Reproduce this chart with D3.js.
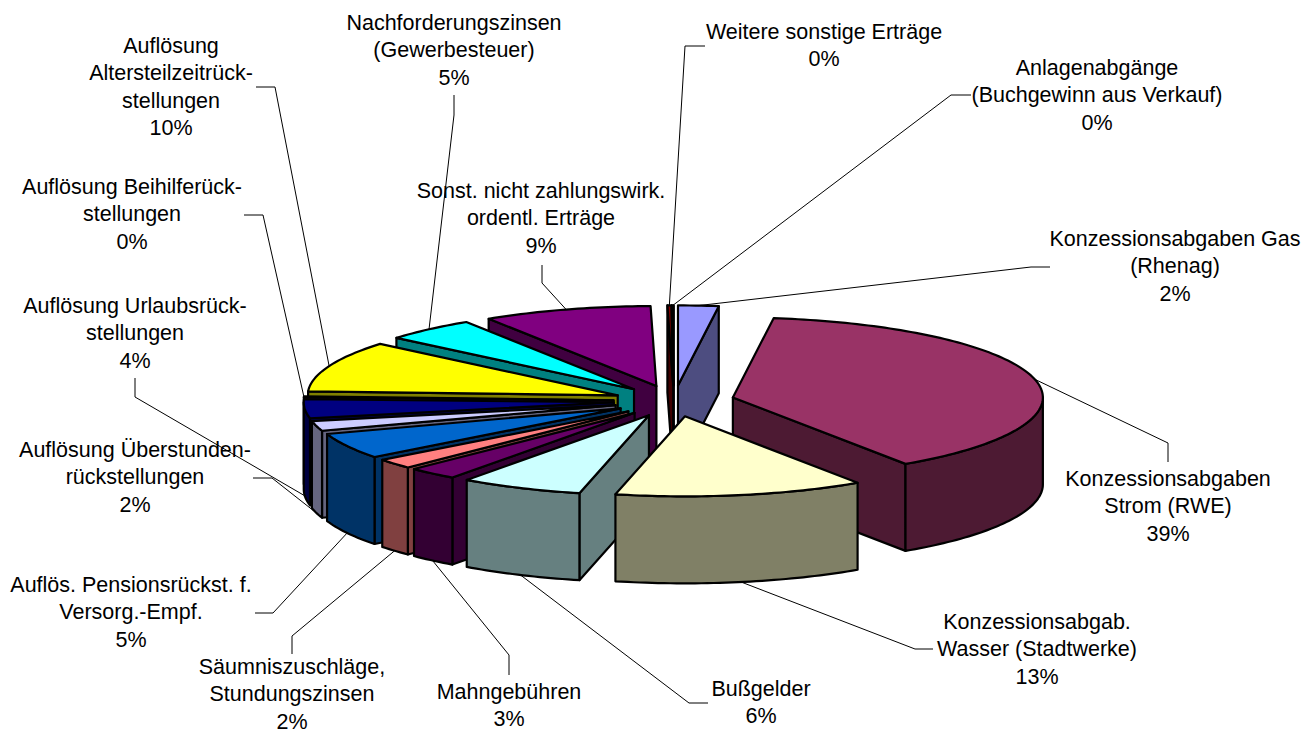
<!DOCTYPE html>
<html lang="de">
	<head>
		<meta charset="utf-8">
		<title>Sonstige Erträge</title>
		<script type="text/javascript" src="https://d3js.org/d3.v7.min.js"></script>
		<style type="text/css">
			body { margin: 0; background: white; }
			svg { display: block; }
			text {
				font-family: "Liberation Sans", Arial, sans-serif;
				font-size: 21.5px;
				fill: black;
			}
		</style>
	</head>
	<body>
		<div id="chart"></div>
		<script type="text/javascript">

		//Chart data, clockwise from 12 o'clock
		var categories = [
			["Konzessionsabgaben Gas", "(Rhenag)"],
			["Konzessionsabgaben", "Strom (RWE)"],
			["Konzessionsabgab.", "Wasser (Stadtwerke)"],
			["Bußgelder"],
			["Mahngebühren"],
			["Säumniszuschläge,", "Stundungszinsen"],
			["Auflös. Pensionsrückst. f.", "Versorg.-Empf."],
			["Auflösung Überstunden-", "rückstellungen"],
			["Auflösung Urlaubsrück-", "stellungen"],
			["Auflösung Beihilferück-", "stellungen"],
			["Auflösung", "Altersteilzeitrück-", "stellungen"],
			["Nachforderungszinsen", "(Gewerbesteuer)"],
			["Sonst. nicht zahlungswirk.", "ordentl. Erträge"],
			["Weitere sonstige Erträge"],
			["Anlagenabgänge", "(Buchgewinn aus Verkauf)"]
		];
		var values = [2.1, 38.5, 13.0, 6.4, 2.6, 2.0, 5.2, 2.0, 3.8, 0.2, 10.3, 4.8, 8.8, 0.2, 0.1];
		var colors = ["#9999FF", "#993366", "#FFFFCC", "#CCFFFF", "#660066", "#FF8080", "#0066CC", "#CCCCFF",
			"#000080", "#FF00FF", "#FFFF00", "#00FFFF", "#800080", "#800000", "#008080"];

		//Label layout: centre x, first baseline, leader elbow, leader end
		var labelX = [1175, 1168, 1037, 761, 509, 292, 131, 135, 135, 132, 171, 454, 541, 824, 1097];
		var labelY = [246, 486, 629, 696, 699, 674, 592, 457, 313, 194, 53, 30, 198, 39, 75];
		var elbows = [[1031,267],[1168,443],[915,649],[689,703],[509,655],[292,636],[273,613],[272,478],[135,397],[263,215],[275,87],[454,115],[542,283],[685,46],[951,95]];
		var ends = [[1050,267],[1168,462],[933,649],[708,703],[509,675],[292,654],[255,613],[253,478],[135,378],[244,215],[256,87],[454,95],[542,265],[705,46],[971,95]];

		//Pie properties
		var w = 1313;
		var h = 733;
		var cx = 674, cy = 401;
		var rx = 310, ry = 80;
		var depth = 87;
		var explode = 0.195;
		var lineStep = 27.3;

		var xScale = d3.scaleLinear().domain([-1, 1]).range([cx - rx, cx + rx]);
		var yScale = d3.scaleLinear().domain([-1, 1]).range([cy - ry, cy + ry]);
		var pct = d3.format(".0f");
		var total = d3.sum(values);

		var pie = d3.pie().sort(null).value(function(d) { return d; });
		var slices = pie(values).map(function(s, i) {
			s.mid = (s.startAngle + s.endAngle) / 2;
			s.index = i;
			return s;
		});

		//Point on the slice, angle clockwise from top, lift = how far down the side
		function pt(s, r, angle, lift) {
			var ex = explode * Math.sin(s.mid), ey = -explode * Math.cos(s.mid);
			return [
				xScale(ex + r * Math.sin(angle)),
				yScale(ey - r * Math.cos(angle)) + (lift || 0)
			];
		}

		function arcPoints(s, a0, a1, lift) {
			var n = Math.max(2, Math.ceil((a1 - a0) / 0.02));
			return d3.range(n + 1).map(function(k) {
				return pt(s, 1, a0 + (a1 - a0) * k / n, lift);
			});
		}

		var line = d3.line();

		function topFace(s) {
			return line([pt(s, 0, 0)].concat(arcPoints(s, s.startAngle, s.endAngle, 0))) + "Z";
		}

		function radialWall(s, angle) {
			return line([pt(s, 0, 0), pt(s, 1, angle), pt(s, 1, angle, depth), pt(s, 0, 0, depth)]) + "Z";
		}

		function outerWall(s, a0, a1) {
			return line(arcPoints(s, a0, a1, 0).concat(arcPoints(s, a0, a1, depth).reverse())) + "Z";
		}

		function darker(c) {
			var col = d3.rgb(c);
			return d3.rgb(col.r / 2, col.g / 2, col.b / 2).formatHex();
		}

		var svg = d3.select("#chart")
			.append("svg")
			.attr("width", w)
			.attr("height", h);

		//Back slices first, front slices last
		var order = slices.slice().sort(function(a, b) { return Math.cos(b.mid) - Math.cos(a.mid); });

		var pieGroup = svg.append("g");

		order.forEach(function(s) {
			var g = pieGroup.append("g");
			var side = darker(colors[s.index]);
			var faces = [];
			var PI = Math.PI;
			if (s.startAngle > PI) faces.push(radialWall(s, s.startAngle));
			if (s.endAngle < PI) faces.push(radialWall(s, s.endAngle));
			var a0 = Math.max(s.startAngle, PI / 2), a1 = Math.min(s.endAngle, 3 * PI / 2);
			if (a1 > a0) faces.push(outerWall(s, a0, a1));

			g.selectAll("path.side")
				.data(faces)
				.enter()
				.append("path")
				.attr("class", "side")
				.attr("d", function(d) { return d; })
				.attr("fill", side);

			g.append("path")
				.attr("d", topFace(s))
				.attr("fill", colors[s.index]);

			g.selectAll("path")
				.attr("stroke", "black")
				.attr("stroke-width", 2.2)
				.attr("stroke-linejoin", "round");
		});

		//Leader lines
		svg.append("g")
			.selectAll("path")
			.data(slices)
			.enter()
			.append("path")
			.attr("fill", "none")
			.attr("stroke", "black")
			.attr("stroke-width", 1)
			.attr("d", function(s) {
				var front = Math.cos(s.mid) < 0;
				var start = pt(s, 1, s.mid, front ? depth : 0);
				return line([start, elbows[s.index], ends[s.index]]);
			});

		//Labels
		var labels = svg.append("g")
			.selectAll("text")
			.data(slices)
			.enter()
			.append("text")
			.attr("text-anchor", "middle")
			.attr("y", function(s) { return labelY[s.index]; });

		labels.each(function(s) {
			var rows = categories[s.index].concat([pct(s.value / total * 100) + "%"]);
			d3.select(this).selectAll("tspan")
				.data(rows)
				.enter()
				.append("tspan")
				.attr("x", labelX[s.index])
				.attr("y", function(d, k) { return labelY[s.index] + k * lineStep; })
				.text(function(d) { return d; });
		});

		</script>
	</body>
</html>
